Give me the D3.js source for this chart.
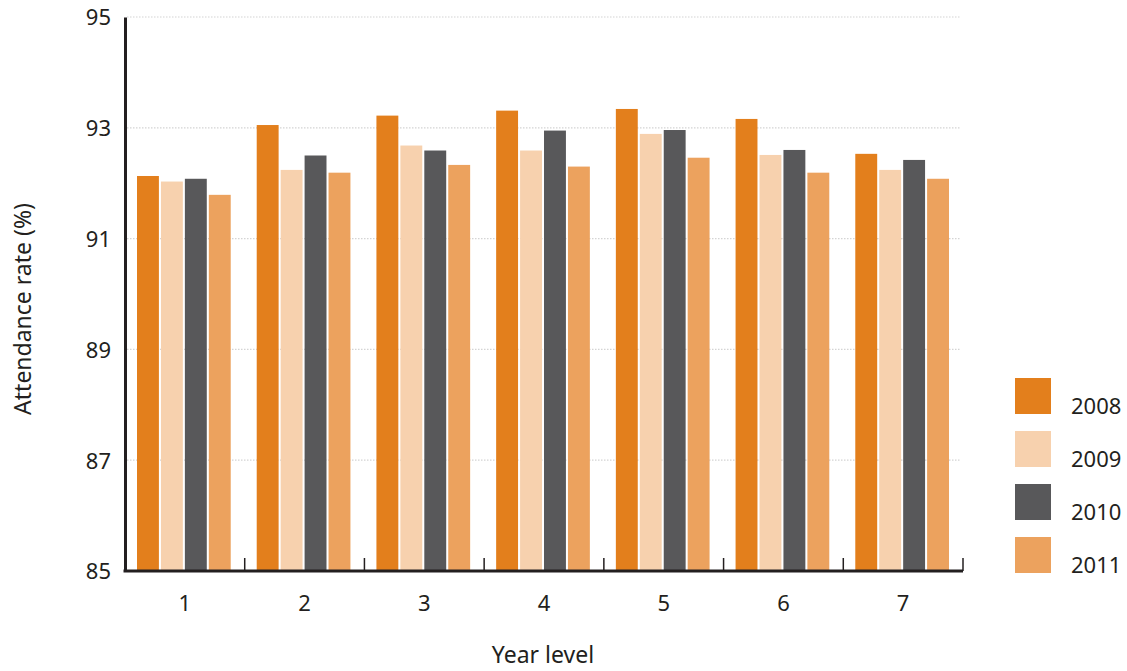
<!DOCTYPE html>
<html><head><meta charset="utf-8">
<script src="https://cdn.jsdelivr.net/npm/d3@7"></script>
<style>body{margin:0;background:#fff}svg{display:block}text{font-family:"Noto Sans",sans-serif;fill:#231f20}</style>
</head><body><svg id="c" width="1127" height="671"></svg>
<script>
const categories = ["1","2","3","4","5","6","7"];
const seriesNames = ["2008","2009","2010","2011"];
const s2008 = [92.13, 93.05, 93.22, 93.31, 93.34, 93.16, 92.53];
const s2009 = [92.03, 92.24, 92.68, 92.59, 92.89, 92.51, 92.24];
const s2010 = [92.08, 92.50, 92.59, 92.95, 92.96, 92.60, 92.42];
const s2011 = [91.79, 92.19, 92.33, 92.30, 92.46, 92.19, 92.08];
const yTicks = [85, 87, 89, 91, 93, 95];
const colors = ["#e37f1c", "#f7d1ae", "#58585a", "#eca25e"];
const series = [s2008, s2009, s2010, s2011];

const svg = d3.select("#c");
const mLeft = 125, mRight = 963, mTop = 17, mBottom = 571;
const x0 = d3.scaleBand().domain(categories).range([mLeft, mRight]).padding(0);
const x1 = d3.scaleBand().domain(seriesNames).range([12, x0.bandwidth() - 14]).paddingInner(0.085).paddingOuter(0);
const y = d3.scaleLinear().domain([85, 95]).range([mBottom, mTop]);

// gridlines
svg.append("g").selectAll("line").data(yTicks.filter(d => d > 85)).join("line")
  .attr("x1", mLeft + 2).attr("x2", 960).attr("y1", d => y(d)).attr("y2", d => y(d))
  .attr("stroke", "#d4d4d4").attr("stroke-width", 1.2).attr("stroke-dasharray", "1.5,1.5");

// bars
const g = svg.append("g");
categories.forEach((c, i) => {
  seriesNames.forEach((s, j) => {
    g.append("rect")
      .attr("x", x0(c) + x1(s)).attr("width", x1.bandwidth())
      .attr("y", y(series[j][i])).attr("height", mBottom - y(series[j][i]))
      .attr("fill", colors[j]);
  });
});

// y axis
const ya = svg.append("g").attr("transform", `translate(${mLeft},0)`)
  .call(d3.axisLeft(y).tickValues(yTicks).tickSize(0).tickPadding(14));
ya.select(".domain").attr("stroke", "#231f20").attr("stroke-width", 3);
ya.selectAll("text").attr("font-size", 22).attr("dy", "0.36em").style("font-family", '"Noto Sans",sans-serif').attr("fill", "#231f20");

// x axis
const xa = svg.append("g").attr("transform", `translate(0,${mBottom})`)
  .call(d3.axisBottom(x0).tickSize(0).tickPadding(24));
xa.select(".domain").attr("stroke", "#231f20").attr("stroke-width", 3).attr("d", `M${mLeft - 1.5},0H${mRight}`);
xa.selectAll("text").attr("font-size", 22).style("font-family", '"Noto Sans",sans-serif').attr("fill", "#231f20");
// group boundary ticks
svg.append("g").selectAll("line").data(categories).join("line")
  .attr("x1", d => x0(d) + x0.bandwidth()).attr("x2", d => x0(d) + x0.bandwidth())
  .attr("y1", mBottom).attr("y2", mBottom - 13)
  .attr("stroke", "#231f20").attr("stroke-width", 1.5);

// axis titles
svg.append("text").attr("x", 543).attr("y", 663).attr("text-anchor", "middle")
  .attr("font-size", 23).text("Year level");
svg.append("text").attr("transform", "translate(31,309) rotate(-90)").attr("text-anchor", "middle")
  .attr("font-size", 23).text("Attendance rate (%)");

// legend
const lg = svg.append("g");
seriesNames.forEach((s, j) => {
  const yy = 378 + j * 53;
  lg.append("rect").attr("x", 1015).attr("y", yy).attr("width", 36).attr("height", 36).attr("fill", colors[j]);
  lg.append("text").attr("x", 1071).attr("y", yy + 36).attr("font-size", 22).text(s);
});
</script></body></html>
